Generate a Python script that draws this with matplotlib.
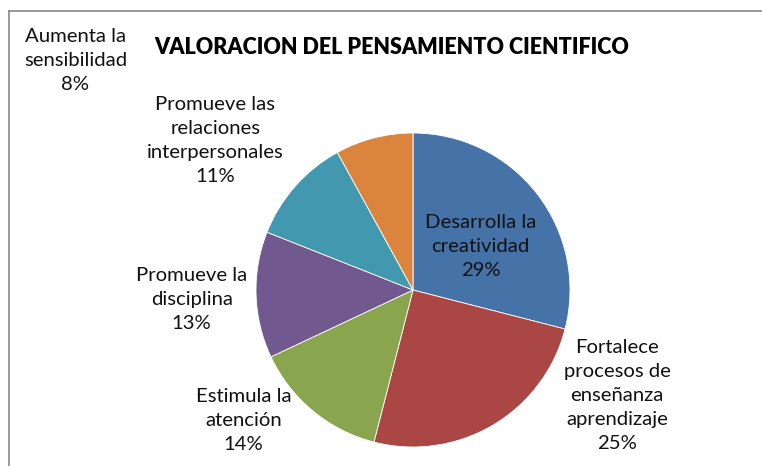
import matplotlib.pyplot as plt
from matplotlib.lines import Line2D

labels = ["Desarrolla la\ncreatividad", "Fortalece\nprocesos de\nenseñanza\naprendizaje",
          "Estimula la\natención", "Promueve la\ndisciplina",
          "Promueve las\nrelaciones\ninterpersonales", "Aumenta la\nsensibilidad"]
values = [29, 25, 14, 13, 11, 8]
colors = ["#4572A7", "#AA4643", "#89A54E", "#71588F", "#4198AF", "#DB843D"]

# label centres in units of pie radius, relative to the pie centre
label_pos = [(0.43, 0.28), (1.30, -0.67), (-1.08, -0.83), (-1.41, -0.06),
             (-1.26, 0.95), (-2.15, 1.46)]

plt.rcParams['font.family'] = ['Lato', 'DejaVu Sans']

W, H = 762, 466
R = 157
cx, cy = 413, 290  # pixels from top-left

fig = plt.figure(figsize=(W / 100, H / 100), dpi=100)
ax = fig.add_axes([0, 0, 1, 1])
ax.pie(values, colors=colors, startangle=90, counterclock=False,
       wedgeprops=dict(edgecolor='white', linewidth=0.6))
ax.set_xlim(-cx / R, (W - cx) / R)
ax.set_ylim(-(H - cy) / R, cy / R)
ax.set_aspect('equal')
ax.axis('off')

for lab, v, (x, y) in zip(labels, values, label_pos):
    ax.text(x, y, f"{lab}\n{v}%", ha='center', va='center', fontsize=14.6,
            color='#111111', linespacing=1.5)

fig.text(392 / W, 1 - 48 / H, "VALORACION DEL PENSAMIENTO CIENTIFICO",
         ha='center', va='center', fontsize=15.5, fontweight='heavy')

# chart frame (left and top edges visible)
fig.add_artist(Line2D([9 / W, 9 / W], [0, 1 - 11 / H], color='#888888', lw=1.2))
fig.add_artist(Line2D([9 / W, 1], [1 - 11 / H, 1 - 11 / H], color='#888888', lw=1.2))

fig.savefig("out.png", dpi=100)
